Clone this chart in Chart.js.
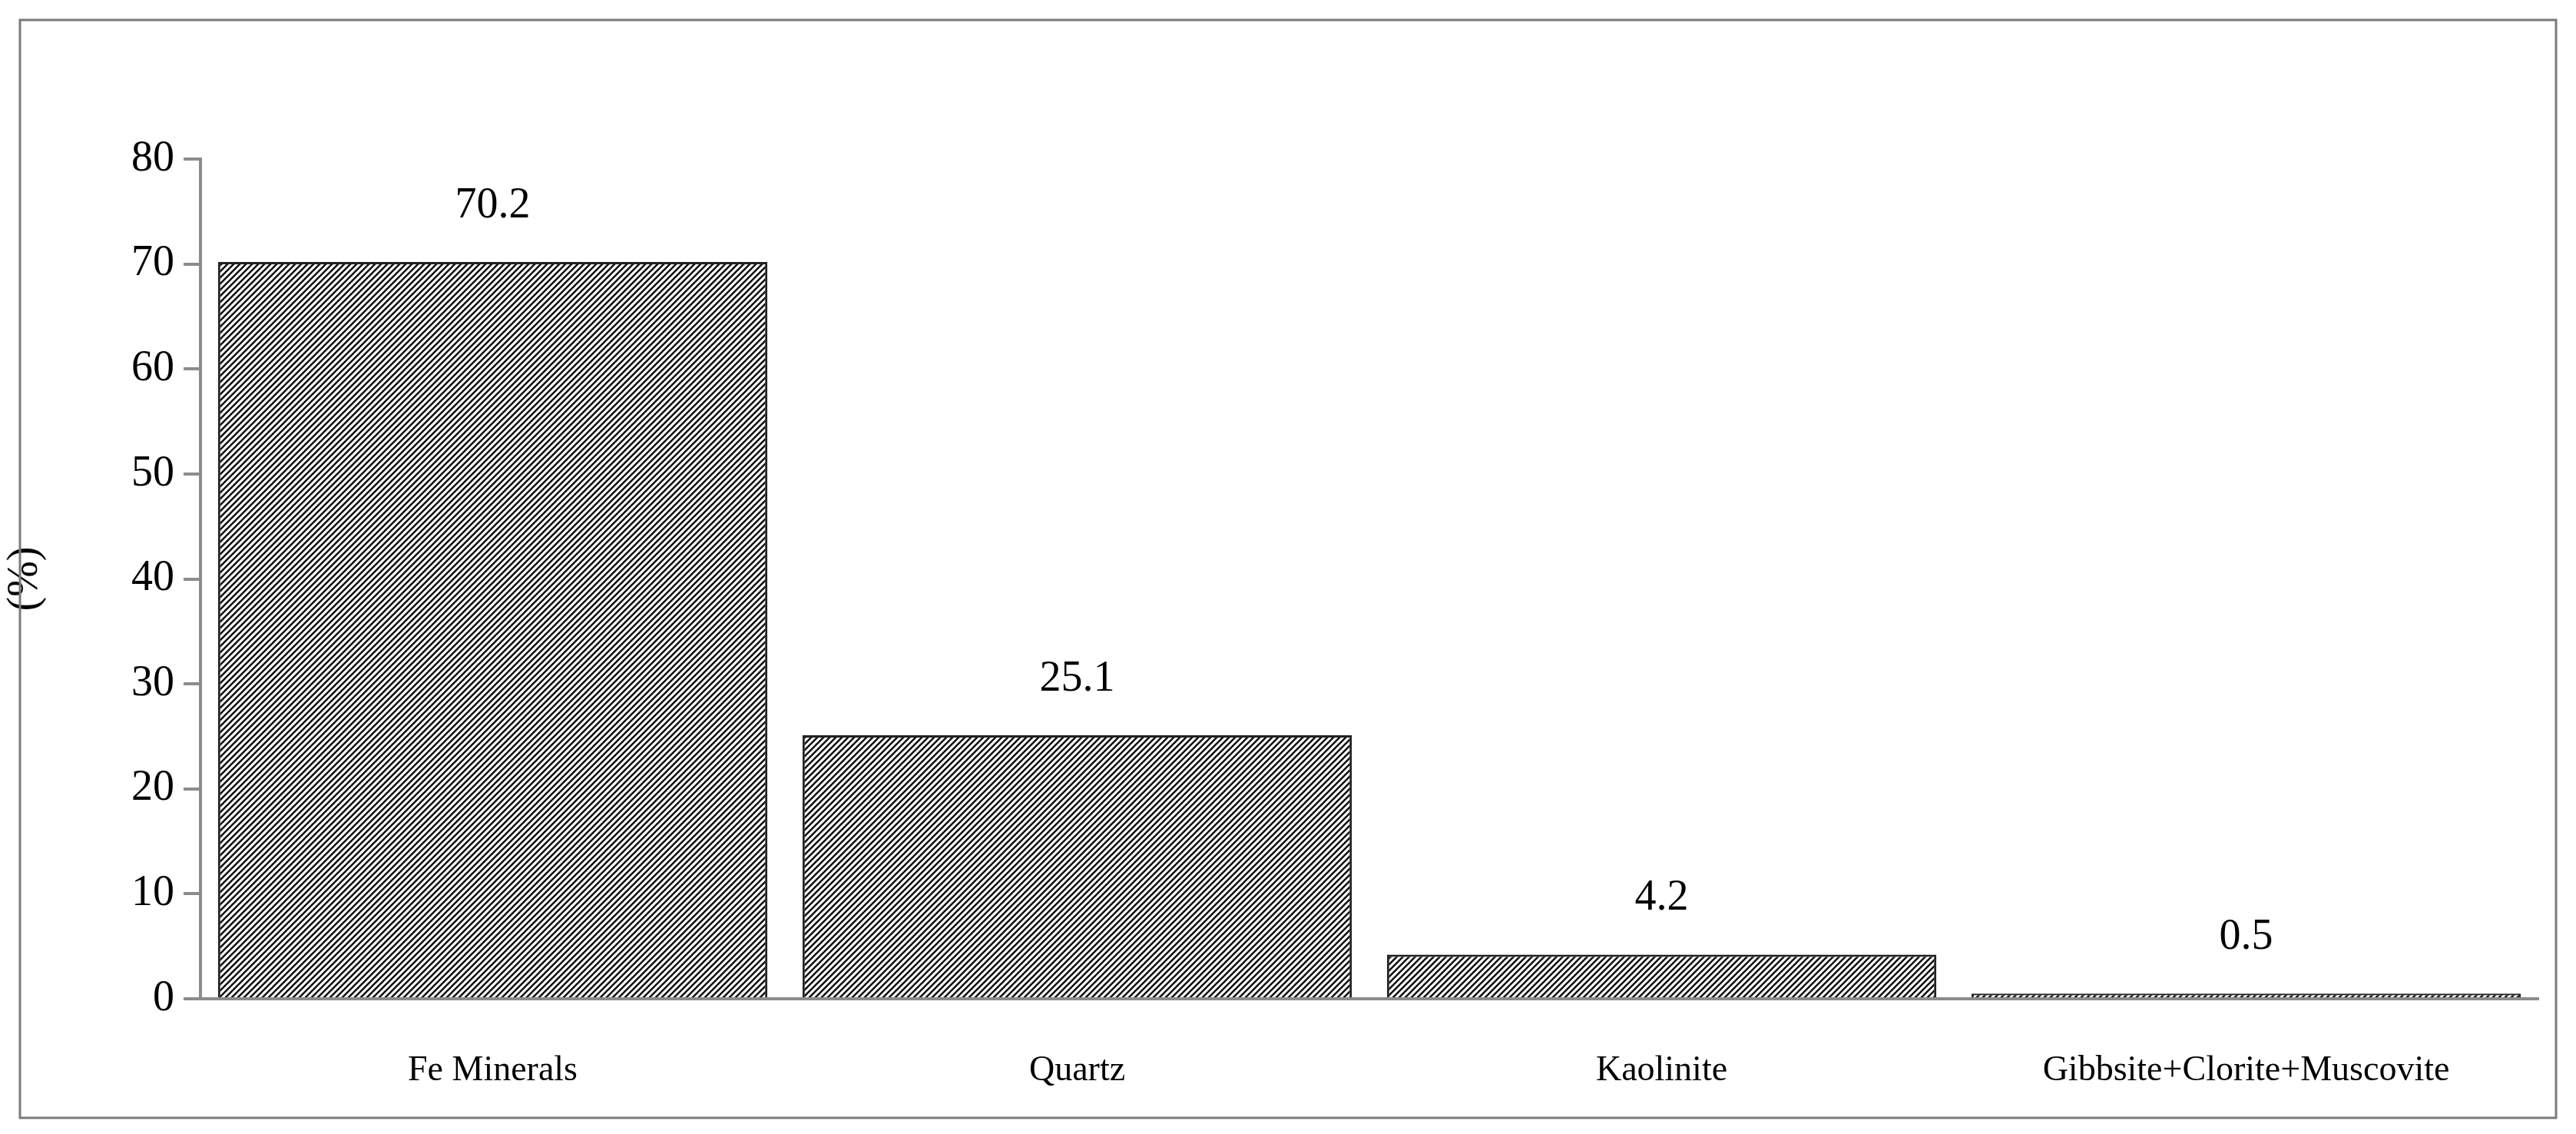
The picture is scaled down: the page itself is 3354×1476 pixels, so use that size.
<!DOCTYPE html>
<html><head><meta charset="utf-8">
<script src="https://cdn.jsdelivr.net/npm/chart.js@4.4.0/dist/chart.umd.min.js"></script>
<style>html,body{margin:0;padding:0;background:#fff}#w{width:3354px;height:1476px}</style>
</head><body><div id="w"><canvas id="c" width="3354" height="1476"></canvas></div>
<script>
const categories = ["Fe Minerals","Quartz","Kaolinite","Gibbsite+Clorite+Muscovite"];
const values = [70.2, 25.1, 4.2, 0.5];
const yTicks = [0,10,20,30,40,50,60,70,80];

const pc = document.createElement('canvas'); pc.width = 8; pc.height = 8;
const px = pc.getContext('2d');
px.fillStyle = '#fff'; px.fillRect(0,0,8,8);
px.strokeStyle = '#111'; px.lineWidth = 2.6;
px.beginPath(); px.moveTo(-2,10); px.lineTo(10,-2); px.moveTo(-2,2); px.lineTo(2,-2); px.moveTo(6,10); px.lineTo(10,6); px.stroke();
const pattern = px.createPattern(pc,'repeat');

const F = "'Liberation Serif','DejaVu Serif',serif";
const extras = {
  id:'extras',
  afterDraw(chart){
    const ctx = chart.ctx, meta = chart.getDatasetMeta(0);
    ctx.save();
    ctx.fillStyle='#000'; ctx.font = '56px '+F; ctx.textAlign='center'; ctx.textBaseline='bottom';
    meta.data.forEach((b,i)=>{ ctx.fillText(values[i].toFixed(1), b.x, b.y-45); });
    ctx.strokeStyle='#7a7a7a'; ctx.lineWidth=3; ctx.strokeRect(26,26,3302,1429);
    ctx.restore();
  }
};
new Chart(document.getElementById('c'),{
  type:'bar',
  data:{labels:categories,datasets:[{data:values,backgroundColor:pattern,borderColor:'#222',borderWidth:3,barPercentage:0.94,categoryPercentage:1}]},
  options:{responsive:false,animation:false,devicePixelRatio:1,
    layout:{padding:{top:207,right:49,bottom:0,left:0}},
    plugins:{legend:{display:false},tooltip:{enabled:false}},
    scales:{
      x:{grid:{display:false},border:{color:'#8c8c8c',width:4},
         ticks:{color:'#000',font:{family:F,size:46},padding:58,maxRotation:0,autoSkip:false},
         afterFit(s){s.height=176;}},
      y:{min:0,max:80,afterBuildTicks(s){s.ticks=yTicks.map(v=>({value:v}));},
         grid:{drawOnChartArea:false,color:'#8c8c8c',lineWidth:4,tickLength:22},
         border:{color:'#8c8c8c',width:4},
         ticks:{color:'#000',font:{family:F,size:56},padding:12},
         title:{display:true,text:'(%)',color:'#000',font:{family:F,size:56},padding:{top:0,bottom:0}},
         afterFit(s){s.width=261;}}
    }},
  plugins:[extras]
});
</script></body></html>
